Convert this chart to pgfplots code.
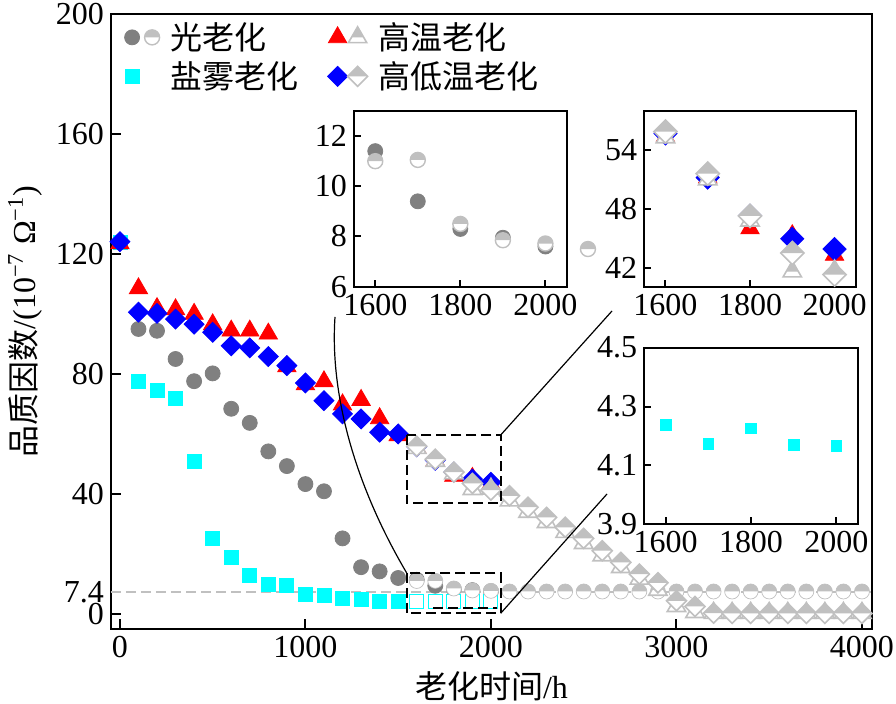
\documentclass[border=0pt]{standalone}
\usepackage{fontspec}
\setmainfont{Liberation Serif}
\newfontfamily\cjk{Noto Sans CJK SC}
\usepackage{pgfplots}
\usepackage{pgfplotstable}
\pgfplotsset{compat=1.18}
\usetikzlibrary{plotmarks}
\definecolor{dgray}{RGB}{128,128,128}
\definecolor{lgray}{RGB}{192,192,192}
\definecolor{mred}{RGB}{255,0,0}
\definecolor{mblue}{RGB}{0,0,255}
\definecolor{mcyan}{RGB}{0,255,255}

% half-filled circle (upper half grey, lower half white)
\pgfdeclareplotmark{hcirc}{%
  \pgfpathcircle{\pgfpointorigin}{\pgfplotmarksize}%
  \pgfsetfillcolor{white}\pgfusepathqfillstroke
  \pgfpathmoveto{\pgfqpoint{\pgfplotmarksize}{0pt}}%
  \pgfpatharc{0}{180}{\pgfplotmarksize}%
  \pgfpathclose
  \pgfsetfillcolor{lgray}\pgfusepathqfill
}
% full diamond
\pgfdeclareplotmark{fdia}{%
  \pgfpathmoveto{\pgfqpoint{0pt}{\pgfplotmarksize}}%
  \pgfpathlineto{\pgfqpoint{\pgfplotmarksize}{0pt}}%
  \pgfpathlineto{\pgfqpoint{0pt}{-\pgfplotmarksize}}%
  \pgfpathlineto{\pgfqpoint{-\pgfplotmarksize}{0pt}}%
  \pgfpathclose
  \pgfusepathqfillstroke
}
% half diamond
\pgfdeclareplotmark{hdia}{%
  \pgfpathmoveto{\pgfqpoint{0pt}{\pgfplotmarksize}}%
  \pgfpathlineto{\pgfqpoint{\pgfplotmarksize}{0pt}}%
  \pgfpathlineto{\pgfqpoint{0pt}{-\pgfplotmarksize}}%
  \pgfpathlineto{\pgfqpoint{-\pgfplotmarksize}{0pt}}%
  \pgfpathclose
  \pgfsetfillcolor{white}\pgfusepathqfillstroke
  \pgfpathmoveto{\pgfqpoint{0pt}{\pgfplotmarksize}}%
  \pgfpathlineto{\pgfqpoint{\pgfplotmarksize}{0pt}}%
  \pgfpathlineto{\pgfqpoint{-\pgfplotmarksize}{0pt}}%
  \pgfpathclose
  \pgfsetfillcolor{lgray}\pgfusepathqfill
}
% full triangle
\pgfdeclareplotmark{ftri}{%
  \pgfpathmoveto{\pgfqpoint{0pt}{\pgfplotmarksize}}%
  \pgfpathlineto{\pgfqpoint{0.866\pgfplotmarksize}{-0.5\pgfplotmarksize}}%
  \pgfpathlineto{\pgfqpoint{-0.866\pgfplotmarksize}{-0.5\pgfplotmarksize}}%
  \pgfpathclose
  \pgfusepathqfillstroke
}
% half triangle
\pgfdeclareplotmark{htri}{%
  \pgfpathmoveto{\pgfqpoint{0pt}{\pgfplotmarksize}}%
  \pgfpathlineto{\pgfqpoint{0.866\pgfplotmarksize}{-0.5\pgfplotmarksize}}%
  \pgfpathlineto{\pgfqpoint{-0.866\pgfplotmarksize}{-0.5\pgfplotmarksize}}%
  \pgfpathclose
  \pgfsetfillcolor{white}\pgfusepathqfillstroke
  \pgfpathmoveto{\pgfqpoint{0pt}{\pgfplotmarksize}}%
  \pgfpathlineto{\pgfqpoint{0.577\pgfplotmarksize}{0pt}}%
  \pgfpathlineto{\pgfqpoint{-0.577\pgfplotmarksize}{0pt}}%
  \pgfpathclose
  \pgfsetfillcolor{lgray}\pgfusepathqfill
}

% light aging, measured
\pgfplotstableread{
x y
0 124
100 95.0
200 94.4
300 85.0
400 77.6
500 80.2
600 68.4
700 63.7
800 54.2
900 49.3
1000 43.3
1100 40.9
1200 25.2
1300 15.6
1400 14.2
1500 12.0
1600 11.4
1700 9.4
1800 8.3
1900 7.95
2000 7.6
}\LA
% light aging, predicted
\pgfplotstableread{
x y
1600 11.0
1700 11.05
1800 8.5
1900 7.85
2000 7.72
2100 7.5
2200 7.5
2300 7.5
2400 7.5
2500 7.5
2600 7.5
2700 7.5
2800 7.5
2900 7.5
3000 7.5
3100 7.5
3200 7.5
3300 7.5
3400 7.5
3500 7.5
3600 7.5
3700 7.5
3800 7.5
3900 7.5
4000 7.5
}\LP
% salt fog
\pgfplotstableread{
x y
0 124
100 77.6
200 74.4
300 71.7
400 51.0
500 25.3
600 18.9
700 13.0
800 9.8
900 9.4
1000 6.4
1100 6.1
1200 5.3
1300 4.8
1400 4.3
1500 4.3
1600 4.238
1700 4.174
1800 4.226
1900 4.171
2000 4.167
}\SF
% high temperature, measured
\pgfplotstableread{
x y
0 123.5
100 108.5
200 101.9
300 101.5
400 100.0
500 96.5
600 94.4
700 94.4
800 93.4
900 82.5
1000 76.5
1100 77.5
1200 69.8
1300 71.3
1400 65.2
1500 59.5
1600 55.4
1700 51.2
1800 46.0
1900 45.3
2000 43.3
}\HT
% high-low temperature, measured
\pgfplotstableread{
x y
0 124.1
100 100.6
200 100.2
300 98.3
400 96.6
500 93.9
600 89.4
700 88.7
800 85.8
900 82.8
1000 77.0
1100 71.1
1200 66.7
1300 65.0
1400 60.6
1500 60.0
1600 55.7
1700 51.2
1800 47.3
1900 44.95
2000 43.9
}\HL
% high temperature, predicted
\pgfplotstableread{
x y
1600 55.3
1700 51.0
1800 46.8
1900 41.6
2000 41.7
2100 37.8
2200 34.0
2300 30.6
2400 27.3
2500 23.6
2600 19.5
2700 15.6
2800 11.7
2900 8.0
3000 2.6
3100 0.6
3200 0.3
3300 0.3
3400 0.3
3500 0.3
3600 0.3
3700 0.3
3800 0.3
3900 0.3
4000 0.3
}\HTP
% high-low temperature, predicted
\pgfplotstableread{
x y
1600 55.9
1700 51.6
1800 47.3
1900 43.5
2000 41.3
2100 39.4
2200 35.6
2300 32.2
2400 28.9
2500 25.2
2600 21.1
2700 17.2
2800 13.3
2900 10.4
3000 4.4
3100 2.5
3200 0.3
3300 0.2
3400 0.2
3500 0.2
3600 0.2
3700 0.2
3800 0.2
3900 0.2
4000 0.2
}\HLP

\pgfplotsset{
  base/.style={
    scale only axis, anchor=south west,
    tick align=inside, tick pos=left,
    axis line style={line width=1pt},
    every tick/.style={black, line width=1pt},
    tick label style={font=\fontsize{16}{16}\selectfont},
    /pgf/number format/assume math mode=true,
    /pgf/number format/1000 sep={},
  },
  pdark/.style={only marks, mark=*, mark size=3.75pt, draw=dgray, fill=dgray},
  plight/.style={only marks, mark=hcirc, mark size=3.75pt, draw=lgray, mark options={line width=0.7pt}},
  pred/.style={only marks, mark=ftri, mark size=5.3pt, draw=mred, fill=mred},
  pblue/.style={only marks, mark=fdia, mark size=5pt, draw=mblue, fill=mblue},
  ptri/.style={only marks, mark=htri, mark size=5.3pt, draw=lgray, mark options={line width=0.8pt}},
  pdia/.style={only marks, mark=hdia, mark size=5pt, draw=lgray, mark options={line width=0.8pt}},
}

\begin{document}
\begin{tikzpicture}
\begin{axis}[base, name=main,
  at={(55.5pt,37.5pt)}, width=380.5pt, height=307.5pt,
  xmin=-48, xmax=4054, ymin=-5, ymax=200,
  xtick={0,1000,2000,3000,4000},
  ytick={0,7.4,40,80,120,160,200},
  major tick length=5pt,
  clip=false,
  xlabel={{\cjk 老化时间}/h},
  ylabel={{\cjk 品质因数}/(10\textsuperscript{−7} Ω\textsuperscript{−1})},
  label style={font=\fontsize{16}{16}\selectfont},
  legend columns=2,
  legend cell align=left,
  legend style={draw=none, fill=none, at={(axis description cs:0,1)}, anchor=north west,
    xshift=6.6pt, yshift=-4pt, inner sep=0pt,
    font=\cjk\fontsize{16}{16}\selectfont,
    nodes={inner sep=0pt},
    row sep=4.5pt,
    /tikz/every odd column/.append style={column sep=5.5pt},
    /tikz/every even column/.append style={column sep=14.5pt}},
]
\addlegendimage{legend image code/.code={
  \path[draw=dgray, fill=dgray] plot[only marks, mark=*, mark size=3.75pt] coordinates {(0pt,0pt)};
  \path[draw=lgray, line width=0.7pt] plot[only marks, mark=hcirc, mark size=3.75pt] coordinates {(10pt,0pt)};}}
\addlegendentry{光老化}
\addlegendimage{legend image code/.code={
  \path[draw=mred, fill=mred] plot[only marks, mark=ftri, mark size=5.3pt] coordinates {(0pt,0pt)};
  \path[draw=lgray, line width=0.8pt] plot[only marks, mark=htri, mark size=5.3pt] coordinates {(10pt,0pt)};}}
\addlegendentry{高温老化}
\addlegendimage{legend image code/.code={
  \path[draw=mcyan, fill=mcyan] plot[only marks, mark=square*, mark size=3.5pt] coordinates {(0pt,0pt)};}}
\addlegendentry{盐雾老化}
\addlegendimage{legend image code/.code={
  \path[draw=mblue, fill=mblue] plot[only marks, mark=fdia, mark size=5pt] coordinates {(0pt,0pt)};
  \path[draw=lgray, line width=0.8pt] plot[only marks, mark=hdia, mark size=5pt] coordinates {(10pt,0pt)};}}
\addlegendentry{高低温老化}

\addplot[lgray, line width=1pt, dash pattern=on 5pt off 2.5pt, forget plot] coordinates {(-48,7.4) (4054,7.4)};
\addplot[pdark, forget plot] table[x=x,y=y] {\LA};
\addplot[only marks, mark=square*, mark size=3.5pt, draw=mcyan, fill=mcyan, forget plot,
  restrict x to domain=-100:1550] table[x=x,y=y] {\SF};
\addplot[only marks, mark=square*, mark size=3.5pt, draw=mcyan, mark options={fill=white, line width=0.5pt}, forget plot,
  restrict x to domain=1550:2050] table[x=x,y=y] {\SF};
\addplot[pred, forget plot] table[x=x,y=y] {\HT};
\addplot[pblue, forget plot] table[x=x,y=y] {\HL};
\addplot[plight, mark options={line width=0.35pt}, forget plot] table[x=x,y=y] {\LP};
\addplot[ptri, forget plot] table[x=x,y=y] {\HTP};
\addplot[pdia, forget plot] table[x=x,y=y] {\HLP};
\end{axis}

% inset 1: light aging
\begin{axis}[base, at={(177pt,208.65pt)}, width=106.35pt, height=87.85pt,
  xmin=1550, xmax=2050, ymin=6, ymax=13,
  xtick={1600,1800,2000}, ytick={6,8,10,12},
  major tick length=3.5pt, clip=false]
\addplot[pdark, restrict x to domain=1550:2050] table[x=x,y=y] {\LA};
\addplot[plight, restrict x to domain=1550:2150] table[x=x,y=y] {\LP};
\end{axis}

% inset 2: high temperature & high-low temperature
\begin{axis}[base, at={(322.15pt,208.35pt)}, width=105.7pt, height=88.15pt,
  xmin=1550, xmax=2050, ymin=40, ymax=58,
  xtick={1600,1800,2000}, ytick={42,48,54},
  major tick length=3.5pt]
\addplot[pred, restrict x to domain=1550:2050] table[x=x,y=y] {\HT};
\addplot[pblue, mark size=5.8pt, restrict x to domain=1550:2050] table[x=x,y=y] {\HL};
\addplot[ptri, restrict x to domain=1550:2050] table[x=x,y=y] {\HTP};
\addplot[pdia, mark size=5.8pt, restrict x to domain=1550:2050] table[x=x,y=y] {\HLP};
\end{axis}

% inset 3: salt fog
\begin{axis}[base, at={(322.15pt,89.85pt)}, width=106.7pt, height=88.3pt,
  xmin=1550, xmax=2050, ymin=3.9, ymax=4.5,
  xtick={1600,1800,2000}, ytick={3.9,4.1,4.3,4.5},
  yticklabel style={/pgf/number format/fixed, /pgf/number format/precision=1, /pgf/number format/fixed zerofill},
  major tick length=3.5pt]
\addplot[only marks, mark=square*, mark size=2.7pt, draw=mcyan, fill=mcyan, restrict x to domain=1550:2050] table[x=x,y=y] {\SF};
\end{axis}

% zoom boxes and connectors (pixel coordinates of the 896x704 frame)
\begin{scope}[shift={(0pt,352pt)}, x=0.5pt, y=-0.5pt]
  \draw[black, line width=1pt, dash pattern=on 5pt off 2.5pt] (406.7,435) rectangle (500.7,503.3);
  \draw[black, line width=1pt, dash pattern=on 5pt off 2.5pt] (406.7,573) rectangle (500.7,613.3);
  \draw[black, line width=1pt, dash pattern=on 5pt off 2.5pt] (433,607.7) -- (497,607.7);
  \draw[black, line width=0.6pt] (335,317) .. controls (330,390) and (352,480) .. (406.7,573);
  \draw[black, line width=0.6pt] (500.7,435) -- (612,311);
  \draw[black, line width=0.6pt] (500.7,613.3) -- (607,494);
\end{scope}
\pgfresetboundingbox
\path (0pt,0pt) rectangle (448pt,352pt);
\end{tikzpicture}
\end{document}
